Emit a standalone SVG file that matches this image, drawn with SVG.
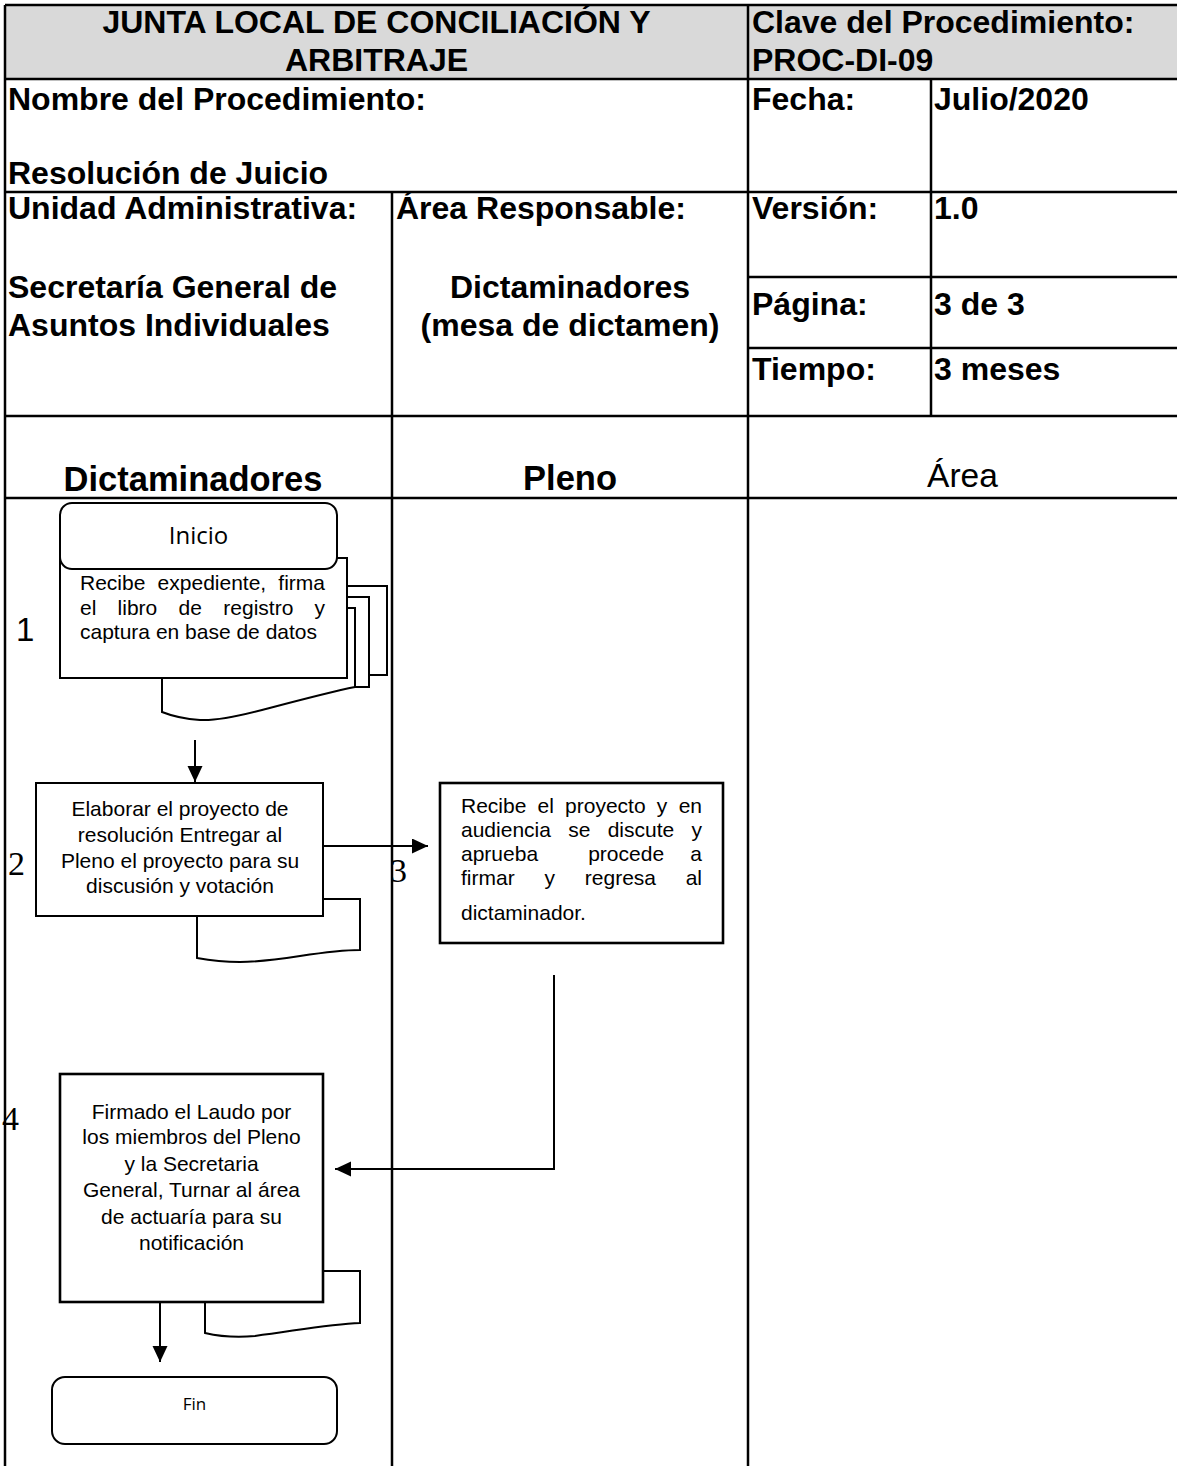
<svg xmlns="http://www.w3.org/2000/svg" width="1177" height="1466" viewBox="0 0 1177 1466">
  <defs>
    <style>
      .grid { stroke: #000; stroke-width: 2.5; fill: none; }
      .lbl { font-family: "Liberation Sans", Arial, sans-serif; font-weight: bold; font-size: 32px; fill: #000; }
      .lane { font-family: "Liberation Sans", Arial, sans-serif; font-weight: bold; font-size: 34.5px; fill: #000; }
      .lane-r { font-family: "Liberation Sans", Arial, sans-serif; font-size: 33.5px; fill: #000; }
      .box { fill: #fff; stroke: #000; stroke-width: 2; }
      .box3 { fill: #fff; stroke: #000; stroke-width: 2.6; }
      .doc { fill: #fff; stroke: #000; stroke-width: 2; }
      .txt { font-family: "Liberation Sans", Arial, sans-serif; font-size: 21px; fill: #000; }
      .term { font-family: "Open Sans", "Noto Sans", sans-serif; fill: #000; }
      .num { font-family: "Liberation Serif", "Times New Roman", serif; font-size: 34px; fill: #000; }
      .num1 { font-family: "Liberation Sans", Arial, sans-serif; font-size: 33px; fill: #000; }
      .conn { stroke: #000; stroke-width: 2; fill: none; }
    </style>
    <marker id="arrow" markerUnits="userSpaceOnUse" markerWidth="17" markerHeight="16" refX="16" refY="7.5" orient="auto">
      <path d="M0,0 L16,7.5 L0,15 z" fill="#000"/>
    </marker>
  </defs>

  <rect width="1177" height="1466" fill="#fff"/>

  <!-- header block -->
  <g id="header">
    <rect x="5" y="5" width="1172" height="74" fill="#d9d9d9"/>
    <path class="grid" d="M5,5 H1177 M5,79 H1177 M5,192 H1177 M5,416 H1177 M5,498 H1177 M748,277 H1177 M748,348 H1177"/>
    <path class="grid" d="M5,5 V1466 M748,5 V1466 M931,79 V416 M392,192 V1466"/>

    <text class="lbl" x="376.5" y="33" text-anchor="middle">JUNTA LOCAL DE CONCILIACIÓN Y</text>
    <text class="lbl" x="376.5" y="71" text-anchor="middle">ARBITRAJE</text>
    <text class="lbl" x="752" y="33">Clave del Procedimiento:</text>
    <text class="lbl" x="752" y="71">PROC-DI-09</text>

    <text class="lbl" x="8" y="110">Nombre del Procedimiento:</text>
    <text class="lbl" x="8" y="184">Resolución de Juicio</text>
    <text class="lbl" x="752" y="110">Fecha:</text>
    <text class="lbl" x="934" y="110">Julio/2020</text>

    <text class="lbl" x="8" y="219">Unidad Administrativa:</text>
    <text class="lbl" x="8" y="298">Secretaría General de</text>
    <text class="lbl" x="8" y="336">Asuntos Individuales</text>
    <text class="lbl" x="396" y="219">Área Responsable:</text>
    <text class="lbl" x="570" y="298" text-anchor="middle">Dictaminadores</text>
    <text class="lbl" x="570" y="336" text-anchor="middle">(mesa de dictamen)</text>
    <text class="lbl" x="752" y="219">Versión:</text>
    <text class="lbl" x="934" y="219">1.0</text>
    <text class="lbl" x="752" y="315">Página:</text>
    <text class="lbl" x="934" y="315">3 de 3</text>
    <text class="lbl" x="752" y="380">Tiempo:</text>
    <text class="lbl" x="934" y="380">3 meses</text>
  </g>

  <!-- swimlane titles -->
  <g id="lanes">
    <text class="lane" x="193" y="491" text-anchor="middle">Dictaminadores</text>
    <text class="lane" x="570" y="490" text-anchor="middle">Pleno</text>
    <text class="lane-r" x="962.5" y="487" text-anchor="middle">Área</text>
  </g>

  <!-- connectors -->
  <g id="connectors">
    <path class="conn" d="M195,740 V782" marker-end="url(#arrow)"/>
    <path class="conn" d="M323,846 H428" marker-end="url(#arrow)"/>
    <path class="conn" d="M554,975 V1169 H335" marker-end="url(#arrow)"/>
    <path class="conn" d="M160,1302 V1362" marker-end="url(#arrow)"/>
  </g>

  <!-- step 1: start + multi-document -->
  <g id="node1">
    <path class="doc" d="M347,586 H387 V675 H369"/>
    <path class="doc" d="M347,597 H369 V687 H355"/>
    <path class="doc" d="M347,608 H355 V687 C330,692 300,700 262,710 C235,717 215,721 200,720 C185,719 172,716 162,712 V678"/>
    <rect class="doc" x="60" y="558" width="287" height="120"/>
    <rect class="box" x="60" y="503" width="277" height="66" rx="12"/>
    <text class="term" x="198.5" y="544" font-size="24" text-anchor="middle">Inicio</text>
    <text class="txt" y="590"><tspan x="80">Recibe</tspan><tspan x="157.6">expediente,</tspan></text>
    <text class="txt" x="325" y="590" text-anchor="end">firma</text>
    <text class="txt" y="615"><tspan x="80">el</tspan><tspan x="117.6">libro</tspan><tspan x="178.6">de</tspan><tspan x="223.3">registro</tspan></text>
    <text class="txt" x="325" y="615" text-anchor="end">y</text>
    <text class="txt" x="80" y="639">captura en base de datos</text>
    <text class="num1" x="16" y="641">1</text>
  </g>

  <!-- step 2 -->
  <g id="node2">
    <path class="doc" d="M323,899 H360 V950 C320,950 280,962 240,962 C220,962 208,960 197,958 V916"/>
    <rect class="box" x="36" y="783" width="287" height="133"/>
    <text class="txt" x="180" y="816" text-anchor="middle">Elaborar el proyecto de</text>
    <text class="txt" x="180" y="842" text-anchor="middle">resolución Entregar al</text>
    <text class="txt" x="180" y="868" text-anchor="middle">Pleno el proyecto para su</text>
    <text class="txt" x="180" y="893" text-anchor="middle">discusión y votación</text>
    <text class="num" x="8" y="875">2</text>
  </g>

  <!-- step 3 -->
  <g id="node3">
    <rect class="box3" x="440" y="783" width="283" height="160"/>
    <text class="txt" y="813"><tspan x="461">Recibe</tspan><tspan x="537.6">el</tspan><tspan x="565.1">proyecto</tspan><tspan x="656.8">y</tspan></text>
    <text class="txt" x="702" y="813" text-anchor="end">en</text>
    <text class="txt" y="837"><tspan x="461">audiencia</tspan><tspan x="568.2">se</tspan><tspan x="607.7">discute</tspan></text>
    <text class="txt" x="702" y="837" text-anchor="end">y</text>
    <text class="txt" y="861"><tspan x="461">aprueba</tspan><tspan x="588.2">procede</tspan></text>
    <text class="txt" x="702" y="861" text-anchor="end">a</text>
    <text class="txt" y="885"><tspan x="461">firmar</tspan><tspan x="544.5">y</tspan><tspan x="584.8">regresa</tspan></text>
    <text class="txt" x="702" y="885" text-anchor="end">al</text>
    <text class="txt" x="461" y="920">dictaminador.</text>
    <text class="num" x="390" y="882">3</text>
  </g>

  <!-- step 4 -->
  <g id="node4">
    <path class="doc" d="M323,1271 H360 V1323 C330,1324 300,1330 255,1336 C235,1338 218,1336 205,1333 V1302"/>
    <rect class="box3" x="60" y="1074" width="263" height="228"/>
    <text class="txt" x="191.5" y="1119" text-anchor="middle">Firmado el Laudo por</text>
    <text class="txt" x="191.5" y="1144" text-anchor="middle">los miembros del Pleno</text>
    <text class="txt" x="191.5" y="1171" text-anchor="middle">y la Secretaria</text>
    <text class="txt" x="191.5" y="1197" text-anchor="middle">General, Turnar al área</text>
    <text class="txt" x="191.5" y="1224" text-anchor="middle">de actuaría para su</text>
    <text class="txt" x="191.5" y="1250" text-anchor="middle">notificación</text>
    <text class="num" x="2" y="1130">4</text>
  </g>

  <!-- end -->
  <g id="fin">
    <rect class="box" x="52" y="1377" width="285" height="67" rx="13"/>
    <text class="term" x="194.5" y="1410" font-size="17" text-anchor="middle">Fin</text>
  </g>
</svg>
